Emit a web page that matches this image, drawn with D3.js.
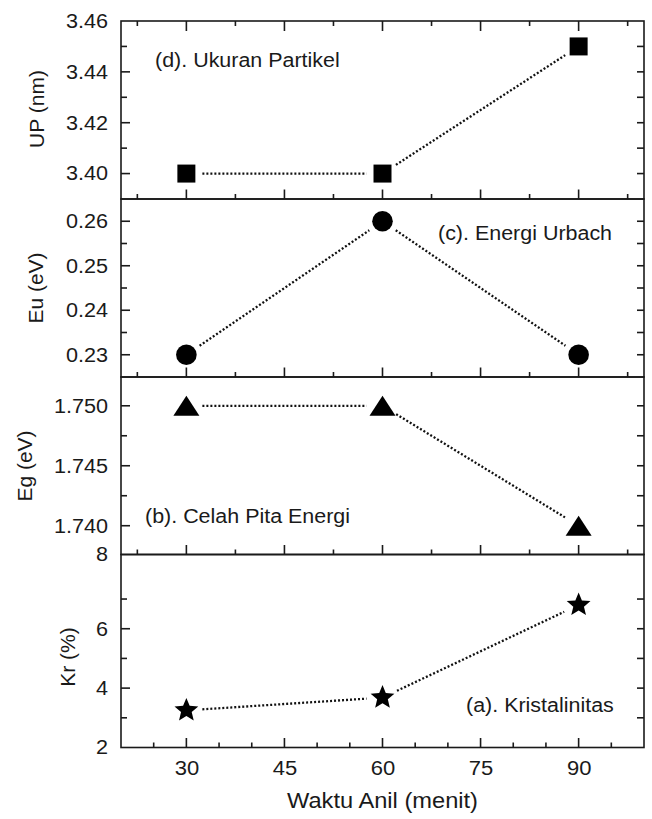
<!DOCTYPE html>
<html>
<head>
<meta charset="utf-8">
<script src="https://cdn.jsdelivr.net/npm/d3@7"></script>
<style>
  html, body { margin: 0; padding: 0; background: #fff; }
  svg { display: block; }
  text { font-family: "Liberation Sans", Arial, sans-serif; fill: #1a1a1a; }
</style>
</head>
<body>
<script>
// ---------------- data ----------------
const times = [30, 60, 90];                 // Waktu Anil (menit)
const UP = [3.40, 3.40, 3.45];              // (d) Ukuran Partikel, nm
const Eu = [0.23, 0.26, 0.23];              // (c) Energi Urbach, eV
const Eg = [1.750, 1.750, 1.740];           // (b) Celah Pita Energi, eV
const Kr = [3.25, 3.68, 6.80];              // (a) Kristalinitas, %

const xDomain = [20, 100];
const xMajorTicks = [30, 45, 60, 75, 90];
const xMinorTicksPanel = [22.5, 37.5, 52.5, 67.5, 82.5, 97.5];
const xMinorTicksBottom = [25, 35, 40, 50, 55, 65, 70, 80, 85, 95];

const upDomain = [3.39, 3.46];
const upMajor = [3.40, 3.42, 3.44, 3.46];
const upMinor = [3.41, 3.43, 3.45];
const upRight = [3.40, 3.41, 3.42, 3.43, 3.44, 3.45];

const euDomain = [0.225, 0.265];
const euMajor = [0.23, 0.24, 0.25, 0.26];
const euMinor = [0.235, 0.245, 0.255];
const euRight = [0.23, 0.235, 0.24, 0.245, 0.25, 0.255, 0.26];

const egDomain = [1.7376, 1.7524];
const egMajor = [1.740, 1.745, 1.750];
const egMinor = [1.7425, 1.7475];
const egRight = [1.740, 1.7425, 1.745, 1.7475, 1.750];

const krDomain = [2, 8.5];
const krMajor = [2, 4, 6, 8.5];
const krMajorLabels = ["2", "4", "6", "8"];
const krMinor = [3, 5, 7];
const krRight = [3, 4, 5, 6, 7];

// ---------------- layout ----------------
const W = 652, H = 819;
const left = 121, right = 644;
const STRETCH = 1.08;

const svg = d3.select("body").append("svg").attr("width", W).attr("height", H);
svg.append("rect").attr("width", W).attr("height", H).attr("fill", "#fff");

const x = d3.scaleLinear().domain(xDomain).range([left, right]);

const panels = [
  { key: "d", vals: UP, domain: upDomain, top: 21, bottom: 199, major: upMajor, minor: upMinor, rightT: upRight,
    fmt: d3.format(".2f"), title: "UP (nm)", titleX: 37, titleY: 109, marker: "square",
    label: "(d). Ukuran Partikel", lx: 155, ly: 67, anchor: "start", topTicks: true },
  { key: "c", vals: Eu, domain: euDomain, top: 199, bottom: 377, major: euMajor, minor: euMinor, rightT: euRight,
    fmt: d3.format(".2f"), title: "Eu (eV)", titleX: 36, titleY: 288, marker: "circle",
    label: "(c). Energi Urbach", lx: 438, ly: 240, anchor: "start" },
  { key: "b", vals: Eg, domain: egDomain, top: 377, bottom: 554.5, major: egMajor, minor: egMinor, rightT: egRight,
    fmt: d3.format(".3f"), title: "Eg (eV)", titleX: 25, titleY: 466, marker: "triangle",
    label: "(b). Celah Pita Energi", lx: 145, ly: 523, anchor: "start" },
  { key: "a", vals: Kr, domain: krDomain, top: 554.5, bottom: 747.5, major: krMajor, minor: krMinor, rightT: krRight,
    fmt: (d, i) => krMajorLabels[i], title: "Kr (%)", titleX: 68, titleY: 657, marker: "star",
    label: "(a). Kristalinitas", lx: 466, ly: 712, anchor: "start", bottomAxis: true }
];

function starPath(R, r) {
  const pts = [];
  for (let i = 0; i < 10; i++) {
    const rad = i % 2 === 0 ? R : r;
    const a = -Math.PI / 2 + i * Math.PI / 5;
    pts.push([rad * Math.cos(a), rad * Math.sin(a)]);
  }
  return "M" + pts.map(p => p[0].toFixed(2) + "," + p[1].toFixed(2)).join("L") + "Z";
}
const markerPaths = {
  square: d3.symbol(d3.symbolSquare, 18 * 18)(),
  circle: d3.symbol(d3.symbolCircle, Math.PI * 10.3 * 10.3)(),
  triangle: "M0,-10L13,10L-13,10Z",
  star: starPath(12.5, 5.6)
};

const stroke = "#1a1a1a";
const sw = 1.6;

function stretch(sel, k) {
  sel.each(function () {
    const w = this.getComputedTextLength();
    this.setAttribute("textLength", (w * k).toFixed(2));
    this.setAttribute("lengthAdjust", "spacingAndGlyphs");
  });
}

panels.forEach(p => {
  const y = d3.scaleLinear().domain(p.domain).range([p.bottom, p.top]);
  const g = svg.append("g");

  // frame
  g.append("rect").attr("x", left).attr("y", p.top).attr("width", right - left).attr("height", p.bottom - p.top)
    .attr("fill", "none").attr("stroke", stroke).attr("stroke-width", sw);

  // left axis major ticks with labels
  const leftAxis = d3.axisLeft(y).tickValues(p.major).tickSize(0).tickPadding(13).tickFormat(p.fmt);
  const la = g.append("g").attr("transform", `translate(${left},0)`).call(leftAxis);
  la.select(".domain").remove();
  la.selectAll("text").attr("font-size", 20).attr("fill", "#1a1a1a")
    .attr("font-family", '"Liberation Sans", Arial, sans-serif');
  stretch(la.selectAll("text"), STRETCH);

  // left tick marks (inward)
  g.selectAll(null).data(p.major.filter(v => v > p.domain[0] && v < p.domain[1])).join("line")
    .attr("x1", left).attr("x2", left + 9).attr("y1", d => y(d)).attr("y2", d => y(d))
    .attr("stroke", stroke).attr("stroke-width", sw);
  g.selectAll(null).data(p.minor).join("line")
    .attr("x1", left).attr("x2", left + 6).attr("y1", d => y(d)).attr("y2", d => y(d))
    .attr("stroke", stroke).attr("stroke-width", sw);
  // right tick marks (inward)
  g.selectAll(null).data(p.rightT).join("line")
    .attr("x1", right).attr("x2", right - 7).attr("y1", d => y(d)).attr("y2", d => y(d))
    .attr("stroke", stroke).attr("stroke-width", sw);

  // bottom ticks (pointing up, inward)
  const minorX = p.bottomAxis ? xMinorTicksBottom : xMinorTicksPanel;
  g.selectAll(null).data(xMajorTicks).join("line")
    .attr("x1", d => x(d)).attr("x2", d => x(d)).attr("y1", p.bottom).attr("y2", p.bottom - 9.5)
    .attr("stroke", stroke).attr("stroke-width", sw);
  g.selectAll(null).data(minorX).join("line")
    .attr("x1", d => x(d)).attr("x2", d => x(d)).attr("y1", p.bottom).attr("y2", p.bottom - 5)
    .attr("stroke", stroke).attr("stroke-width", sw);
  if (p.topTicks) {
    g.selectAll(null).data(xMajorTicks).join("line")
      .attr("x1", d => x(d)).attr("x2", d => x(d)).attr("y1", p.top).attr("y2", p.top + 10)
      .attr("stroke", stroke).attr("stroke-width", sw);
    g.selectAll(null).data(xMinorTicksPanel).join("line")
      .attr("x1", d => x(d)).attr("x2", d => x(d)).attr("y1", p.top).attr("y2", p.top + 5)
      .attr("stroke", stroke).attr("stroke-width", sw);
  }

  // bottom axis labels
  if (p.bottomAxis) {
    const bx = d3.axisBottom(x).tickValues(xMajorTicks).tickSize(0).tickPadding(13).tickFormat(d3.format("d"));
    const ba = g.append("g").attr("transform", `translate(0,${p.bottom})`).call(bx);
    ba.select(".domain").remove();
    ba.selectAll("text").attr("font-size", 20).attr("fill", "#1a1a1a")
      .attr("font-family", '"Liberation Sans", Arial, sans-serif');
    stretch(ba.selectAll("text"), 1.1);
  }

  // y title
  g.append("text").attr("transform", `translate(${p.titleX},${p.titleY}) rotate(-90)`)
    .attr("text-anchor", "middle").attr("dy", "0.35em").attr("font-size", 21).text(p.title);

  // panel label
  const lt = g.append("text").attr("x", p.lx).attr("y", p.ly).attr("text-anchor", p.anchor)
    .attr("font-size", 19.5).text(p.label);
  stretch(lt, 1.1);

  // dotted connecting lines with gaps at the symbols
  const pts = times.map((t, i) => [x(t), y(p.vals[i])]);
  const gap = 16;
  for (let i = 0; i < pts.length - 1; i++) {
    const [x0, y0] = pts[i], [x1, y1] = pts[i + 1];
    const dx = x1 - x0, dy = y1 - y0, L = Math.hypot(dx, dy);
    const ux = dx / L, uy = dy / L;
    g.append("line")
      .attr("x1", x0 + ux * gap).attr("y1", y0 + uy * gap)
      .attr("x2", x1 - ux * gap).attr("y2", y1 - uy * gap)
      .attr("stroke", "#111").attr("stroke-width", 2.3).attr("stroke-dasharray", "2,2");
  }

  // markers
  g.selectAll(null).data(times.map((t, i) => ({ t, v: p.vals[i] }))).join("path")
    .attr("d", markerPaths[p.marker])
    .attr("transform", d => `translate(${x(d.t)},${y(d.v)})`)
    .attr("fill", "#000");
});

// x axis title
const xt = svg.append("text").attr("x", (left + right) / 2).attr("y", 808).attr("text-anchor", "middle")
  .attr("font-size", 21.5).text("Waktu Anil (menit)");
stretch(xt, 1.1);
</script>
</body>
</html>
